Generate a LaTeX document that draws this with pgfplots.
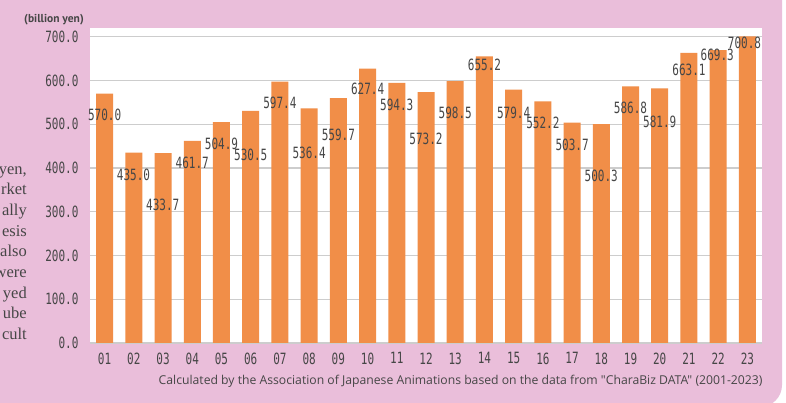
\documentclass[border=0pt]{standalone}
\usepackage{fontspec}
\usepackage{pgfplots}
\pgfplotsset{compat=1.18}
\newfontfamily\labfont[FakeStretch=0.71]{DejaVu Sans Mono}
\newfontfamily\notefont{Open Sans}
\newfontfamily\unitfont{PT Sans}
\newfontfamily\seriffont{Liberation Serif}
\definecolor{bg}{RGB}{234,190,218}
\definecolor{barc}{RGB}{241,142,72}
\definecolor{txt}{RGB}{70,70,70}
\definecolor{gridc}{RGB}{205,205,205}
\begin{document}
\begin{tikzpicture}[x=1pt,y=1pt]
\useasboundingbox (0,0) rectangle (786,403);
\fill[white] (0,0) rectangle (786,403);
\fill[bg, rounded corners=22pt] (-60,-4) rectangle (782,425);
\begin{scope}
\clip (0,0) rectangle (786,403);
\node[anchor=east, align=right, inner sep=0pt, font=\seriffont\fontsize{16.5pt}{20.7pt}\selectfont, text=txt] at (27,150) {yen,\\rket\\ally\\esis\\also\\were\\yed\\ube\\cult};
\end{scope}
\node[font=\unitfont\bfseries\fontsize{11.5pt}{12pt}\selectfont, text=txt] at (54,383) {(billion yen)};
\node[anchor=east, font=\notefont\fontsize{12.2pt}{14pt}\selectfont, text=txt] at (766,22) {Calculated by the Association of Japanese Animations based on the data from "CharaBiz DATA" (2001-2023)};
\begin{axis}[
  at={(90pt,60pt)}, anchor=south west, scale only axis,
  width=672pt, height=315pt,
  xmin=0.5, xmax=23.5, ymin=0, ymax=720,
  ytick={0,100,200,300,400,500,600,700},
  yticklabels={0.0,100.0,200.0,300.0,400.0,500.0,600.0,700.0},
  xtick={1,...,23},
  xticklabels={01,02,03,04,05,06,07,08,09,10,11,12,13,14,15,16,17,18,19,20,21,22,23},
  ymajorgrids, grid style={gridc, line width=1.3pt},
  axis line style={draw=none},
  major tick length=0pt,
  tick label style={font=\labfont\fontsize{15.5pt}{17pt}\selectfont, text=txt},
  yticklabel style={xshift=-8pt},
  xticklabel style={yshift=-6pt},
  axis background/.style={fill=white},
  clip=false,
]
\addplot[ybar, bar width=17pt, fill=barc, draw=none] coordinates {
(1,570.0) (2,435.0) (3,433.7) (4,461.7) (5,504.9) (6,530.5) (7,597.4) (8,536.4)
(9,559.7) (10,627.4) (11,594.3) (12,573.2) (13,598.5) (14,655.2) (15,579.4) (16,552.2)
(17,503.7) (18,500.3) (19,586.8) (20,581.9) (21,663.1) (22,669.3) (23,700.8)};
\addplot[draw=none, mark=none, nodes near coords, point meta=explicit symbolic,
  every node near coord/.append style={anchor=center, inner sep=0pt, font=\labfont\fontsize{15.5pt}{17pt}\selectfont, text=txt}] coordinates {
(1,521) [570.0] (1.99,384) [435.0] (2.99,315) [433.7] (4,411) [461.7] (5,455) [504.9]
(6,430) [530.5] (7,549) [597.4] (8,434) [536.4] (9,475) [559.7] (10,581) [627.4]
(11,544) [594.3] (12,466) [573.2] (13,526) [598.5] (14,635) [655.2] (15,526) [579.4]
(16,503) [552.2] (17,453) [503.7] (18,382) [500.3] (19,537) [586.8] (20,505) [581.9]
(21,624) [663.1] (21.97,658) [669.3] (22.9,686) [700.8]};
\end{axis}
\end{tikzpicture}
\end{document}
